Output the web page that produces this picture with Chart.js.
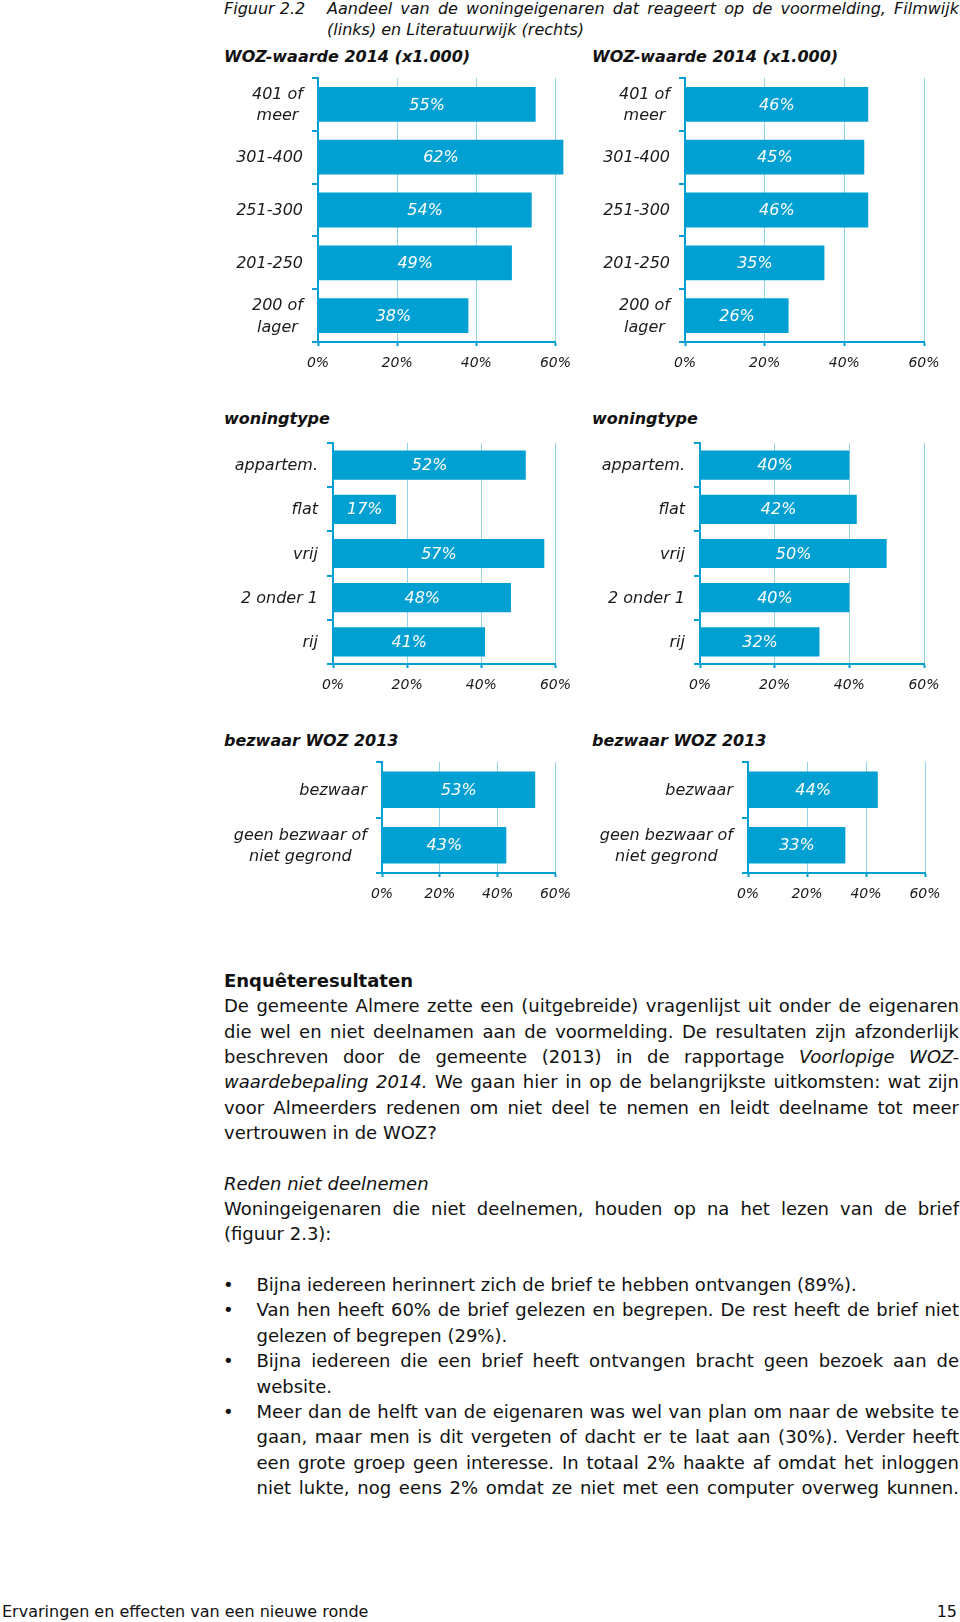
<!DOCTYPE html>
<html>
<head>
<meta charset="utf-8">
<script src="https://cdn.jsdelivr.net/npm/chart.js@4/dist/chart.umd.min.js"></script>
<style>
  body { margin: 0; background: #fff; font-family: "DejaVu Sans", sans-serif; color: #111; }
  .page { position: relative; width: 960px; height: 1622px; overflow: hidden; }
  .abs { position: absolute; }
  .cap { font-style: italic; font-size: 16px; line-height: 21px; }
  .ttl { font-weight: bold; font-style: italic; font-size: 16px; line-height: 20px; }
  .box { position: absolute; }
  .txt { position: absolute; left: 224px; width: 735px; font-size: 18px; line-height: 25.35px; }
  .txt div { height: 25.35px; }
  .j { text-align: justify; text-align-last: justify; }
  .li { position: relative; padding-left: 32.5px; }
  .dot { position: absolute; left: -1px; top: 0; }
  .foot { font-size: 16px; line-height: 20px; }
</style>
</head>
<body>
<div class="page">
  <div class="abs cap" style="left:224px; top:-2.5px;">Figuur 2.2</div>
  <div class="abs cap" style="left:327px; top:-2.5px; width:632px;">
    <div class="j">Aandeel van de woningeigenaren dat reageert op de voormelding, Filmwijk</div>
    <div>(links) en Literatuurwijk (rechts)</div>
  </div>

  <div class="abs ttl" style="left:224px; top:47px;">WOZ-waarde 2014 (x1.000)</div>
  <div class="abs ttl" style="left:592px; top:47px;">WOZ-waarde 2014 (x1.000)</div>
  <div class="abs ttl" style="left:224px; top:409px;">woningtype</div>
  <div class="abs ttl" style="left:592px; top:409px;">woningtype</div>
  <div class="abs ttl" style="left:224px; top:731px;">bezwaar WOZ 2013</div>
  <div class="abs ttl" style="left:592px; top:731px;">bezwaar WOZ 2013</div>

  <div class="box" style="left:210px; top:70px; width:370px; height:310px;"><canvas id="wozLeft"></canvas></div>
  <div class="box" style="left:580px; top:70px; width:370px; height:310px;"><canvas id="wozRight"></canvas></div>
  <div class="box" style="left:210px; top:435px; width:370px; height:270px;"><canvas id="typeLeft"></canvas></div>
  <div class="box" style="left:580px; top:435px; width:370px; height:270px;"><canvas id="typeRight"></canvas></div>
  <div class="box" style="left:210px; top:754px; width:370px; height:150px;"><canvas id="bezLeft"></canvas></div>
  <div class="box" style="left:580px; top:754px; width:370px; height:150px;"><canvas id="bezRight"></canvas></div>

  <div class="txt" style="top:968px;">
    <div><b>Enquêteresultaten</b></div>
    <div class="j">De gemeente Almere zette een (uitgebreide) vragenlijst uit onder de eigenaren</div>
    <div class="j">die wel en niet deelnamen aan de voormelding. De resultaten zijn afzonderlijk</div>
    <div class="j">beschreven door de gemeente (2013) in de rapportage <i>Voorlopige WOZ-</i></div>
    <div class="j"><i>waardebepaling 2014.</i> We gaan hier in op de belangrijkste uitkomsten: wat zijn</div>
    <div class="j">voor Almeerders redenen om niet deel te nemen en leidt deelname tot meer</div>
    <div>vertrouwen in de WOZ?</div>
    <div></div>
    <div><i>Reden niet deelnemen</i></div>
    <div class="j">Woningeigenaren die niet deelnemen, houden op na het lezen van de brief</div>
    <div>(figuur 2.3):</div>
    <div></div>
    <div class="li"><span class="dot">•</span>Bijna iedereen herinnert zich de brief te hebben ontvangen (89%).</div>
    <div class="li j"><span class="dot">•</span>Van hen heeft 60% de brief gelezen en begrepen. De rest heeft de brief niet</div>
    <div class="li">gelezen of begrepen (29%).</div>
    <div class="li j"><span class="dot">•</span>Bijna iedereen die een brief heeft ontvangen bracht geen bezoek aan de</div>
    <div class="li">website.</div>
    <div class="li j"><span class="dot">•</span>Meer dan de helft van de eigenaren was wel van plan om naar de website te</div>
    <div class="li j">gaan, maar men is dit vergeten of dacht er te laat aan (30%). Verder heeft</div>
    <div class="li j">een grote groep geen interesse. In totaal 2% haakte af omdat het inloggen</div>
    <div class="li j">niet lukte, nog eens 2% omdat ze niet met een computer overweg kunnen.</div>
  </div>

  <div class="abs foot" style="left:2px; top:1602px;">Ervaringen en effecten van een nieuwe ronde</div>
  <div class="abs foot" style="right:3px; top:1602px;">15</div>
</div>

<script>
// data per figure (Filmwijk left, Literatuurwijk right)
const wozLabels = [['401 of', 'meer'], '301-400', '251-300', '201-250', ['200 of', 'lager']];
const wozFilmwijk = [55, 62, 54, 49, 38];
const wozLiteratuurwijk = [46, 45, 46, 35, 26];

const typeLabels = ['appartem.', 'flat', 'vrij', '2 onder 1', 'rij'];
const typeFilmwijk = [52, 17, 57, 48, 41];
const typeLiteratuurwijk = [40, 42, 50, 40, 32];

const bezwaarLabels = ['bezwaar', ['geen bezwaar of', 'niet gegrond']];
const bezwaarFilmwijk = [53, 43];
const bezwaarLiteratuurwijk = [44, 33];

const xTicks = [0, 20, 40, 60];

const blue = '#00a0d2';
const lightBlue = '#93d2e8';

Chart.defaults.font.family = '"DejaVu Sans", sans-serif';

// percentage text inside each bar
const barText = {
  id: 'barText',
  afterDatasetsDraw(chart) {
    const ctx = chart.ctx;
    const meta = chart.getDatasetMeta(0);
    ctx.save();
    ctx.font = 'italic 16px "DejaVu Sans"';
    ctx.fillStyle = '#ffffff';
    ctx.textAlign = 'center';
    ctx.textBaseline = 'middle';
    meta.data.forEach((bar, i) => {
      ctx.fillText(chart.data.datasets[0].data[i] + '%', (bar.x + bar.base) / 2, bar.y + 1);
    });
    ctx.restore();
  }
};

// category labels: block right-aligned, lines centred to each other
const catText = {
  id: 'catText',
  afterDraw(chart) {
    const ctx = chart.ctx;
    const y = chart.scales.y;
    ctx.save();
    ctx.font = 'italic 16px "DejaVu Sans"';
    ctx.fillStyle = '#1a1a1a';
    ctx.textAlign = 'center';
    ctx.textBaseline = 'middle';
    chart.data.labels.forEach((lab, i) => {
      const lines = [].concat(lab);
      const w = Math.max(...lines.map(l => ctx.measureText(l).width));
      const cx = y.right - 15 - w / 2;
      const cy = y.getPixelForValue(i);
      lines.forEach((l, j) => ctx.fillText(l, cx, cy + 1 + (j - (lines.length - 1) / 2) * 21.5));
    });
    ctx.restore();
  }
};

function makeChart(id, labels, values, yWidth, xHeight, padRight) {
  new Chart(document.getElementById(id), {
    type: 'bar',
    data: {
      labels: labels,
      datasets: [{
        data: values,
        backgroundColor: blue,
        borderWidth: 0,
        categoryPercentage: 1,
        barPercentage: 0.66,
        clip: false
      }]
    },
    options: {
      indexAxis: 'y',
      responsive: true,
      maintainAspectRatio: false,
      animation: false,
      layout: { padding: { top: 8, right: padRight, left: 0, bottom: 0 } },
      plugins: { legend: { display: false }, tooltip: { enabled: false } },
      scales: {
        x: {
          min: xTicks[0],
          max: xTicks[xTicks.length - 1],
          afterBuildTicks: s => { s.ticks = xTicks.map(v => ({ value: v })); },
          ticks: {
            callback: v => v + '%',
            font: { size: 14, style: 'italic' },
            color: '#1a1a1a',
            padding: 9,
            maxRotation: 0
          },
          grid: {
            color: c => (c.tick && c.tick.value === 0 ? blue : lightBlue),
            lineWidth: 1,
            tickLength: 4,
            tickColor: blue,
            tickWidth: 2
          },
          border: { color: blue, width: 2 },
          afterFit: s => { s.height = xHeight; }
        },
        y: {
          ticks: { display: false },
          grid: { drawOnChartArea: false, tickLength: 6, color: blue, lineWidth: 2 },
          border: { color: blue, width: 2 },
          afterFit: s => { s.width = yWidth; }
        }
      }
    },
    plugins: [barText, catText]
  });
}

makeChart('wozLeft', wozLabels, wozFilmwijk, 108, 38, 22);
makeChart('wozRight', wozLabels, wozLiteratuurwijk, 105, 38, 26);
makeChart('typeLeft', typeLabels, typeFilmwijk, 123, 41, 23);
makeChart('typeRight', typeLabels, typeLiteratuurwijk, 120, 41, 26);
makeChart('bezLeft', bezwaarLabels, bezwaarFilmwijk, 172, 31, 22);
makeChart('bezRight', bezwaarLabels, bezwaarLiteratuurwijk, 168, 31, 25);
</script>
</body>
</html>
